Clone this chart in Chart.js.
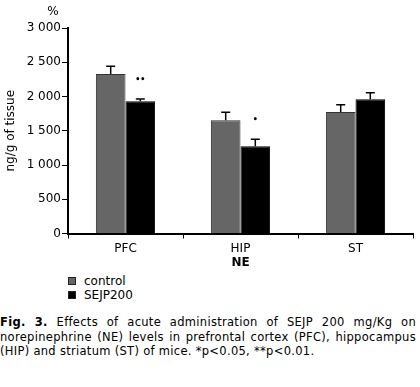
<!DOCTYPE html>
<html>
<head>
<meta charset="utf-8">
<script src="https://cdn.jsdelivr.net/npm/chart.js@4/dist/chart.umd.min.js"></script>
<style>
  html,body{margin:0;padding:0;background:#fff;}
  body{width:420px;height:387px;position:relative;overflow:hidden;font-family:"DejaVu Sans",Verdana,sans-serif;}
  #wrap{position:absolute;left:0;top:0;width:420px;height:270px;}
  #legend{position:absolute;left:68px;top:274px;font-size:12px;line-height:14px;color:#000;}
  #legend .row{display:flex;align-items:center;height:14px;}
  #legend .sw{width:8px;height:8px;margin-right:8px;box-sizing:border-box;border:1px solid #222;}
  #caption{position:absolute;left:0;top:315px;width:416px;font-size:11.5px;letter-spacing:0.3px;line-height:14.5px;color:#000;text-align:justify;}
</style>
</head>
<body>
<div id="wrap"><canvas id="c" width="420" height="270"></canvas></div>
<div id="legend"></div>
<div id="caption"><b>Fig. 3.</b> Effects of acute administration of SEJP 200 mg/Kg on norepinephrine (NE) levels in prefrontal cortex (PFC), hippocampus (HIP) and striatum (ST) of mice. *p&lt;0.05, **p&lt;0.01.</div>
<script>
const categories = ["PFC", "HIP", "ST"];
const seriesNames = ["control", "SEJP200"];
const controlValues = [2330, 1655, 1775];
const controlErrors = [110, 115, 105];
const sejpValues = [1930, 1275, 1960];
const sejpErrors = [35, 100, 95];
const sejpMarks = ["••", "•", ""];
const yTicks = [0, 500, 1000, 1500, 2000, 2500, 3000];
const colors = ["#666666", "#000000"];

function fmt(n){
  if (n >= 1000) return Math.floor(n/1000) + " " + String(n % 1000).padStart(3, "0");
  return String(n);
}

const errorBars = {
  id: "errorBars",
  afterDatasetsDraw(chart){
    const ctx = chart.ctx;
    const ys = chart.scales.y;
    chart.data.datasets.forEach((ds, di) => {
      const meta = chart.getDatasetMeta(di);
      meta.data.forEach((bar, i) => {
        const v = ds.data[i], e = ds.errors[i];
        const yTop = ys.getPixelForValue(v + e);
        ctx.save();
        ctx.strokeStyle = "#000";
        ctx.lineWidth = 1.5;
        ctx.beginPath();
        ctx.moveTo(bar.x, bar.y);
        ctx.lineTo(bar.x, yTop);
        ctx.moveTo(bar.x - 4.5, yTop);
        ctx.lineTo(bar.x + 4.5, yTop);
        ctx.stroke();
        if (ds.marks && ds.marks[i]) {
          ctx.fillStyle = "#000";
          ctx.font = "bold 8px 'DejaVu Sans'";
          ctx.textAlign = "center";
          ctx.textBaseline = "middle";
          ctx.fillText(ds.marks[i], bar.x, yTop - 19);
        }
        ctx.restore();
      });
    });
  }
};

const pctLabel = {
  id: "pctLabel",
  afterDraw(chart){
    const ctx = chart.ctx;
    ctx.save();
    ctx.fillStyle = "#000";
    ctx.font = "12px 'DejaVu Sans'";
    ctx.textAlign = "center";
    ctx.textBaseline = "middle";
    ctx.fillText("%", chart.chartArea.left - 15, chart.chartArea.top - 16);
    ctx.restore();
  }
};

const chart = new Chart(document.getElementById("c"), {
  type: "bar",
  data: {
    labels: categories,
    datasets: [
      { label: seriesNames[0], data: controlValues, errors: controlErrors, backgroundColor: colors[0], borderColor: "#333", borderWidth: 1 },
      { label: seriesNames[1], data: sejpValues, errors: sejpErrors, marks: sejpMarks, backgroundColor: colors[1], borderColor: "#000", borderWidth: 1 }
    ]
  },
  options: {
    responsive: false,
    animation: false,
    devicePixelRatio: 1,
    layout: { padding: { top: 28, right: 7, left: 0, bottom: 0 } },
    datasets: { bar: { categoryPercentage: 0.515, barPercentage: 1.0 } },
    plugins: { legend: { display: false }, tooltip: { enabled: false } },
    scales: {
      x: {
        grid: { display: true, offset: true, drawOnChartArea: false, drawTicks: true, tickLength: 5, color: "#000", lineWidth: 1 },
        border: { display: true, color: "#000", width: 2 },
        ticks: { color: "#000", font: { family: "DejaVu Sans", size: 12 }, padding: 3 },
        title: { display: true, text: "NE", color: "#000", font: { family: "DejaVu Sans", size: 12, weight: "bold" }, padding: { top: 0, bottom: 0 } },
        afterFit(s){ s.height = 36.5; }
      },
      y: {
        min: 0, max: 3000,
        afterBuildTicks(s){ s.ticks = yTicks.map(v => ({ value: v })); },
        grid: { display: true, drawOnChartArea: false, drawTicks: true, tickLength: 6, color: "#000", lineWidth: 1 },
        border: { display: true, color: "#000", width: 2 },
        ticks: { color: "#000", font: { family: "DejaVu Sans", size: 12 }, padding: 1, callback: v => fmt(v) },
        title: { display: true, text: "ng/g of tissue", color: "#000", font: { family: "DejaVu Sans", size: 12 }, padding: { top: 4, bottom: 0 } },
        afterFit(s){ s.width = 68; }
      }
    }
  },
  plugins: [errorBars, pctLabel]
});

const lg = document.getElementById("legend");
seriesNames.forEach((n, i) => {
  const row = document.createElement("div");
  row.className = "row";
  const sw = document.createElement("span");
  sw.className = "sw";
  sw.style.background = colors[i];
  const t = document.createElement("span");
  t.textContent = n;
  row.appendChild(sw); row.appendChild(t);
  lg.appendChild(row);
});
</script>
</body>
</html>
